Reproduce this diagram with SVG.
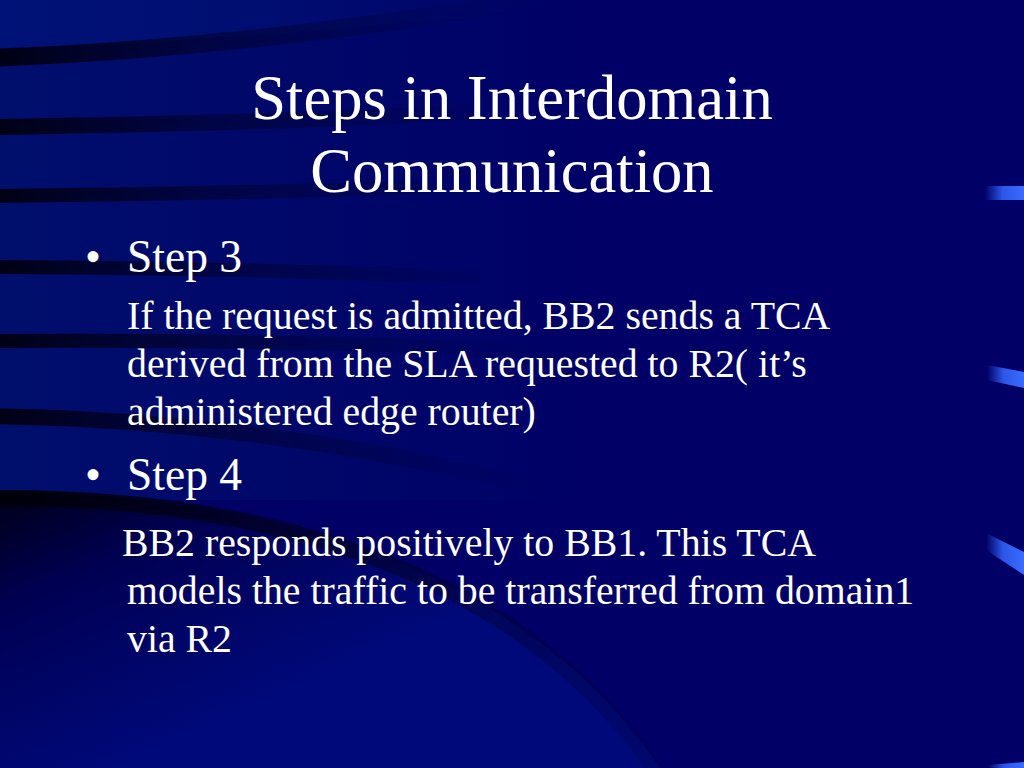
<svg xmlns="http://www.w3.org/2000/svg" width="1024" height="768" viewBox="0 0 1024 768">
  <defs>
    <linearGradient id="stripeGrad" gradientUnits="userSpaceOnUse" x1="0" y1="0" x2="560" y2="0">
      <stop offset="0" stop-color="#000010" stop-opacity="0.95"/>
      <stop offset="0.35" stop-color="#000020" stop-opacity="0.55"/>
      <stop offset="0.85" stop-color="#000030" stop-opacity="0.1"/>
      <stop offset="1" stop-color="#000030" stop-opacity="0"/>
    </linearGradient>
    <linearGradient id="arcGrad" gradientUnits="userSpaceOnUse" x1="0" y1="490" x2="660" y2="768">
      <stop offset="0" stop-color="#000008" stop-opacity="0.95"/>
      <stop offset="0.5" stop-color="#000020" stop-opacity="0.55"/>
      <stop offset="1" stop-color="#000030" stop-opacity="0.15"/>
    </linearGradient>
    <linearGradient id="lowerLeft" gradientUnits="userSpaceOnUse" x1="0" y1="495" x2="120" y2="768">
      <stop offset="0" stop-color="#000010"/>
      <stop offset="0.35" stop-color="#000050"/>
      <stop offset="1" stop-color="#000a7c"/>
    </linearGradient>
    <linearGradient id="topLight" gradientUnits="userSpaceOnUse" x1="0" y1="0" x2="560" y2="0">
      <stop offset="0" stop-color="#001278" stop-opacity="0.9"/>
      <stop offset="1" stop-color="#001278" stop-opacity="0"/>
    </linearGradient>
    <linearGradient id="leftBand" gradientUnits="userSpaceOnUse" x1="0" y1="0" x2="600" y2="0">
      <stop offset="0" stop-color="#00126e" stop-opacity="0.8"/>
      <stop offset="1" stop-color="#00126e" stop-opacity="0"/>
    </linearGradient>
    <linearGradient id="markGrad" x1="0" y1="0" x2="1" y2="0">
      <stop offset="0" stop-color="#3366ff" stop-opacity="0"/>
      <stop offset="0.45" stop-color="#3366ff" stop-opacity="0.85"/>
      <stop offset="1" stop-color="#3a6cff"/>
    </linearGradient>
    <style>
      .stripe { fill: none; stroke: url(#stripeGrad); }
      .mark { fill: url(#markGrad); }
      .title { font-family: "Liberation Serif", "Times New Roman", serif; font-size: 62.6px; fill: #ffffff; text-anchor: middle; }
      .step { font-family: "Liberation Serif", "Times New Roman", serif; font-size: 45.5px; fill: #ffffff; }
      .body { font-family: "Liberation Serif", "Times New Roman", serif; font-size: 39.8px; fill: #ffffff; }
    </style>
  </defs>

  <!-- background -->
  <rect x="0" y="0" width="1024" height="768" fill="#000066"/>
  <rect x="0" y="0" width="600" height="500" fill="url(#leftBand)"/>
  <path d="M0 0 L600 0 Q300 40 0 48 Z" fill="url(#topLight)"/>

  <!-- lower-left dark region under the big arc -->
  <path d="M0 492 C250 492 520 560 660 768 L0 768 Z" fill="url(#lowerLeft)" opacity="0.9"/>

  <!-- dark swooshes -->
  <g id="swooshes">
    <path class="stripe" d="M-10 58 Q260 48 580 -8" stroke-width="18"/>
    <path class="stripe" d="M-10 127 Q250 124 480 112" stroke-width="16"/>
    <path class="stripe" d="M-10 196 Q220 194 430 187" stroke-width="14"/>
    <path class="stripe" d="M-10 267 Q250 268 480 278" stroke-width="14"/>
    <path class="stripe" d="M-10 341 Q300 339 570 352" stroke-width="14"/>
    <path class="stripe" d="M-10 416 Q300 420 600 505" stroke-width="16"/>
    <path d="M-10 498 C250 496 520 562 662 780" fill="none" stroke="url(#arcGrad)" stroke-width="16"/>
  </g>

  <!-- right edge marks -->
  <g id="marks">
    <rect class="mark" x="985" y="186" width="39" height="14"/>
    <polygon class="mark" points="987,365 1024,372 1024,388 987,380"/>
    <polygon class="mark" points="986,533 1024,552 1024,575 986,550"/>
    <polygon class="mark" points="988,765 1024,762 1024,768 988,768"/>
  </g>

  <!-- title -->
  <g id="title">
    <text class="title" x="512" y="119">Steps in Interdomain</text>
    <text class="title" x="512" y="192">Communication</text>
  </g>

  <!-- step 3 -->
  <g id="step3">
    <text class="step" x="85" y="272">•</text>
    <text class="step" x="127" y="272">Step 3</text>
    <text class="body" x="127" y="329">If the request is admitted, BB2 sends a TCA</text>
    <text class="body" x="127" y="377">derived from the SLA requested to R2( it’s</text>
    <text class="body" x="127" y="425">administered edge router)</text>
  </g>

  <!-- step 4 -->
  <g id="step4">
    <text class="step" x="85" y="490">•</text>
    <text class="step" x="127" y="490">Step 4</text>
    <text class="body" x="122" y="556">BB2 responds positively to BB1. This TCA</text>
    <text class="body" x="127" y="604">models the traffic to be transferred from domain1</text>
    <text class="body" x="127" y="652">via R2</text>
  </g>
</svg>
